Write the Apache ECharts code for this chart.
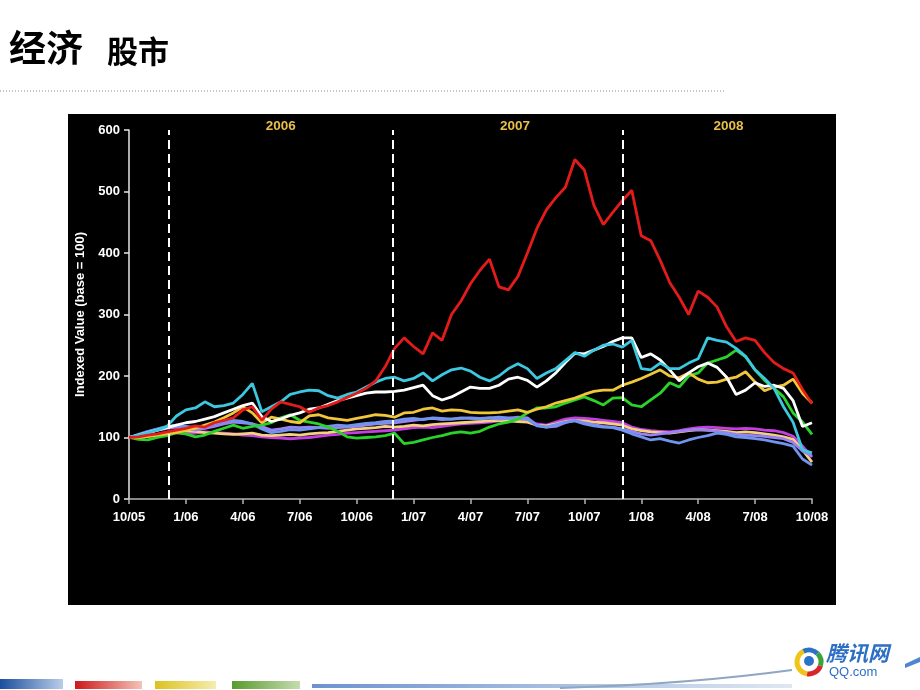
<!DOCTYPE html>
<html>
<head>
<meta charset="utf-8">
<title>经济 股市</title>
<script src="https://cdn.jsdelivr.net/npm/echarts@6/dist/echarts.min.js"></script>
<style>
html, body { margin: 0; padding: 0; background: #fff; }
#main { width: 920px; height: 690px; }
</style>
</head>
<body>
<div id="main"></div>
<script>
// x axis: months since 10/05, one point every half month
const tickLabels = ["10/05", "1/06", "4/06", "7/06", "10/06", "1/07", "4/07", "7/07", "10/07", "1/08", "4/08", "7/08", "10/08"]
const months = Array.from({ length: 73 }, (_, i) => i / 2)

// dashed year dividers and year captions (in months since 10/05)
const dividers = [2.1, 13.9, 26.0]
const years = ["2006", "2007", "2008"]
const yearAt = [8.0, 20.35, 31.6]

// indexed values (base = 100)
const red = [100, 101, 104, 106, 109, 112, 115, 119, 117, 124, 128, 132, 145, 150, 128, 146, 158, 154, 150, 141,
  148, 152, 158, 165, 172, 180, 192, 215, 245, 262, 248, 236, 270, 258, 300, 322, 350, 372, 390, 345,
  340, 362, 400, 440, 470, 490, 507, 552, 535, 478, 446, 466, 485, 502, 428, 420, 388, 352, 328, 300,
  338, 328, 312, 280, 256, 262, 258, 238, 222, 212, 205, 178, 155]
const cyan = [100, 104, 108, 112, 118, 135, 145, 148, 158, 150, 152, 156, 170, 188, 142, 150, 158, 170, 174, 177,
  176, 168, 164, 170, 174, 182, 190, 196, 198, 192, 196, 205, 192, 202, 210, 213, 208, 198, 192, 200,
  212, 220, 212, 196, 205, 212, 225, 238, 232, 242, 250, 252, 247, 258, 212, 210, 221, 212, 212, 221,
  228, 262, 258, 255, 245, 232, 210, 196, 180, 150, 125, 80, 75]
const white = [100, 104, 108, 112, 116, 120, 124, 126, 130, 134, 140, 146, 152, 156, 134, 126, 130, 136, 140, 146,
  148, 154, 160, 164, 168, 172, 174, 174, 175, 177, 181, 185, 168, 161, 166, 174, 182, 180, 180, 185,
  195, 198, 193, 182, 192, 205, 222, 237, 236, 242, 248, 256, 262, 262, 230, 236, 226, 210, 192, 205,
  215, 221, 214, 198, 170, 177, 189, 183, 185, 180, 160, 118, 124]
const gold = [100, 100, 102, 104, 106, 108, 112, 115, 120, 125, 132, 140, 150, 140, 124, 133, 130, 126, 124, 135,
  137, 132, 130, 128, 131, 134, 137, 136, 133, 140, 141, 146, 148, 143, 145, 144, 141, 140, 140, 141,
  143, 145, 141, 146, 150, 156, 160, 164, 170, 175, 177, 177, 185, 190, 196, 203, 210, 200, 197, 205,
  195, 189, 190, 195, 198, 207, 190, 176, 182, 185, 195, 172, 156]
const green = [100, 97, 96, 100, 103, 108, 106, 101, 104, 110, 115, 120, 115, 118, 120, 124, 132, 137, 128, 125,
  122, 117, 110, 101, 99, 100, 101, 103, 107, 90, 92, 96, 100, 103, 107, 109, 107, 110, 117, 122,
  125, 130, 140, 148, 148, 150, 156, 161, 166, 160, 153, 164, 165, 153, 150, 161, 172, 189, 182, 200,
  205, 221, 226, 231, 242, 231, 210, 193, 180, 166, 140, 125, 105]
const lavender = [100, 104, 108, 112, 115, 117, 114, 112, 115, 118, 122, 125, 124, 122, 118, 112, 114, 117, 116, 117,
  116, 115, 116, 117, 118, 120, 122, 123, 124, 126, 128, 130, 131, 129, 130, 131, 132, 131, 132, 130,
  131, 133, 132, 120, 117, 118, 124, 128, 124, 121, 118, 117, 114, 110, 106, 104, 106, 108, 110, 112,
  113, 112, 110, 108, 105, 104, 103, 102, 100, 98, 92, 78, 70]
const blue = [100, 105, 110, 114, 118, 120, 118, 116, 118, 122, 126, 128, 126, 122, 114, 108, 110, 113, 112, 114,
  116, 118, 120, 119, 121, 123, 124, 126, 127, 130, 131, 129, 132, 131, 130, 132, 131, 130, 132, 133,
  132, 131, 130, 119, 117, 121, 125, 127, 122, 119, 117, 116, 112, 106, 101, 96, 98, 94, 91, 96,
  100, 103, 107, 105, 101, 100, 98, 96, 93, 90, 86, 65, 55]
const magenta = [100, 101, 103, 105, 107, 108, 106, 107, 109, 108, 107, 106, 104, 103, 101, 100, 99, 98, 99, 100,
  102, 104, 105, 107, 108, 109, 110, 111, 112, 114, 116, 117, 116, 118, 120, 122, 123, 124, 125, 127,
  129, 131, 128, 122, 120, 125, 130, 132, 131, 130, 128, 126, 124, 117, 113, 111, 110, 109, 111, 114,
  116, 117, 116, 115, 114, 115, 114, 112, 111, 108, 102, 86, 68]
const paleYellow = [100, 100, 102, 104, 106, 110, 111, 110, 108, 107, 106, 105, 106, 107, 104, 103, 104, 105, 104, 106,
  107, 108, 110, 112, 114, 115, 116, 118, 117, 118, 120, 119, 121, 122, 123, 124, 125, 126, 127, 128,
  127, 126, 125, 120, 119, 122, 126, 128, 127, 125, 124, 122, 120, 114, 111, 109, 108, 107, 109, 111,
  113, 112, 111, 110, 108, 109, 108, 106, 104, 101, 97, 80, 60]

const myChart = echarts.init(document.getElementById("main"))

const makeLine = (data, color) => ({
  type: "line",
  data: months.map((m, i) => [m, data[i]]),
  symbol: "none",
  lineStyle: { color: color, width: 2.8 },
  itemStyle: { color: color },
  emphasis: { disabled: true }
})

const lowerFirst = makeLine(magenta, "#c43ee2")
// 年份分隔虚线和年份标签
lowerFirst.markLine = {
  silent: true,
  symbol: "none",
  label: { show: false },
  lineStyle: { color: "#ffffff", width: 2, type: [9, 5] },
  data: dividers.map((d) => ({ xAxis: d }))
}
lowerFirst.markPoint = {
  silent: true,
  symbol: "rect",
  symbolSize: 1,
  itemStyle: { color: "rgba(0,0,0,0)" },
  label: {
    show: true,
    position: "inside",
    offset: [0, -4],
    formatter: "{b}",
    color: "#e8bf48",
    fontFamily: "Liberation Sans",
    fontWeight: "bold",
    fontSize: 13.5
  },
  data: years.map((y, i) => ({ name: y, coord: [yearAt[i], 600] }))
}

const option = {
  animation: false,
  backgroundColor: "#ffffff",
  graphic: [
    { type: "rect", z: -100, shape: { x: 68, y: 114, width: 768, height: 491 }, style: { fill: "#000000" } },
    { type: "text", x: 9, y: 29, style: { text: "经济", font: 'bold 37px "Noto Sans CJK SC"', fill: "#000" } },
    { type: "text", x: 107, y: 36, style: { text: "股市", font: 'bold 31px "Noto Sans CJK SC"', fill: "#000" } },
    { type: "line", shape: { x1: 0, y1: 91, x2: 726, y2: 91 }, style: { stroke: "#8a8a8a", lineWidth: 1, lineDash: [1, 2] } },
    // 底部彩条
    { type: "rect", shape: { x: 0, y: 679, width: 63, height: 10 }, style: { fill: new echarts.graphic.LinearGradient(0, 0, 1, 0, [{ offset: 0, color: "#1c4f9e" }, { offset: 1, color: "#b9cde8" }]) } },
    { type: "rect", shape: { x: 75, y: 681, width: 67, height: 8 }, style: { fill: new echarts.graphic.LinearGradient(0, 0, 1, 0, [{ offset: 0, color: "#cc1a1a" }, { offset: 1, color: "#f3c2b8" }]) } },
    { type: "rect", shape: { x: 155, y: 681, width: 61, height: 8 }, style: { fill: new echarts.graphic.LinearGradient(0, 0, 1, 0, [{ offset: 0, color: "#dcc21e" }, { offset: 1, color: "#f6ecb0" }]) } },
    { type: "rect", shape: { x: 232, y: 681, width: 68, height: 8 }, style: { fill: new echarts.graphic.LinearGradient(0, 0, 1, 0, [{ offset: 0, color: "#5a9a2e" }, { offset: 1, color: "#c4dcb0" }]) } },
    { type: "rect", shape: { x: 312, y: 684, width: 480, height: 4 }, style: { fill: new echarts.graphic.LinearGradient(0, 0, 1, 0, [{ offset: 0, color: "#6d93cf" }, { offset: 1, color: "#dfe7f2" }]) } },
    { type: "bezierCurve", shape: { x1: 560, y1: 688, x2: 792, y2: 670, cpx1: 690, cpy1: 684 }, style: { stroke: "#8fa6c4", lineWidth: 2, fill: null } },
    { type: "polygon", shape: { points: [[905, 664], [920, 657], [920, 662], [905, 668]] }, style: { fill: "#4f86cf" } },
    // 腾讯网 logo
    { type: "arc", shape: { cx: 809, cy: 662, r: 12, startAngle: Math.PI * 0.55, endAngle: Math.PI * 1.35 }, style: { stroke: "#f0c419", lineWidth: 5, fill: null } },
    { type: "arc", shape: { cx: 809, cy: 662, r: 12, startAngle: Math.PI * 0.1, endAngle: Math.PI * 0.55 }, style: { stroke: "#d9262b", lineWidth: 5, fill: null } },
    { type: "arc", shape: { cx: 809, cy: 662, r: 12, startAngle: Math.PI * 1.75, endAngle: Math.PI * 2.1 }, style: { stroke: "#3aa33a", lineWidth: 5, fill: null } },
    { type: "arc", shape: { cx: 809, cy: 662, r: 12, startAngle: Math.PI * 1.35, endAngle: Math.PI * 1.75 }, style: { stroke: "#2a73c6", lineWidth: 5, fill: null } },
    { type: "circle", shape: { cx: 809, cy: 661, r: 5 }, style: { fill: "#2a73c6" } },
    { type: "text", x: 826, y: 643, style: { text: "腾讯网", font: 'italic bold 21px "Noto Sans CJK SC"', fill: "#2d6fc4" } },
    { type: "text", x: 829, y: 666, style: { text: "QQ.com", font: '13px "Liberation Sans"', fill: "#2d6fc4" } }
  ],
  grid: { left: 129, right: 108, top: 130, bottom: 191 },
  xAxis: {
    type: "value",
    min: 0,
    max: 36,
    interval: 3,
    axisLine: { lineStyle: { color: "#b4b4b4", width: 1.5 } },
    axisTick: { show: true, length: 5, lineStyle: { color: "#b4b4b4", width: 1.5 } },
    splitLine: { show: false },
    axisLabel: {
      margin: 12,
      color: "#ffffff",
      fontFamily: "Liberation Sans",
      fontWeight: "bold",
      fontSize: 13,
      formatter: (v) => tickLabels[Math.round(v / 3)]
    }
  },
  yAxis: {
    type: "value",
    min: 0,
    max: 600,
    interval: 100,
    name: "Indexed Value (base = 100)",
    nameLocation: "middle",
    nameGap: 40,
    nameTextStyle: { color: "#ffffff", fontFamily: "Liberation Sans", fontWeight: "bold", fontSize: 13 },
    axisLine: { show: true, lineStyle: { color: "#e6e6e6", width: 1.5 } },
    axisTick: { show: true, length: 5, lineStyle: { color: "#e6e6e6", width: 1.5 } },
    splitLine: { show: false },
    axisLabel: { margin: 9, color: "#ffffff", fontFamily: "Liberation Sans", fontWeight: "bold", fontSize: 13 }
  },
  series: [
    lowerFirst,
    makeLine(paleYellow, "#f2d27e"),
    makeLine(lavender, "#9a82f2"),
    makeLine(blue, "#6f95ee"),
    makeLine(green, "#2ad22a"),
    makeLine(gold, "#f0c63a"),
    makeLine(white, "#ffffff"),
    makeLine(cyan, "#3cc8e0"),
    makeLine(red, "#e41b1b")
  ]
}

myChart.setOption(option)
</script>
</body>
</html>
